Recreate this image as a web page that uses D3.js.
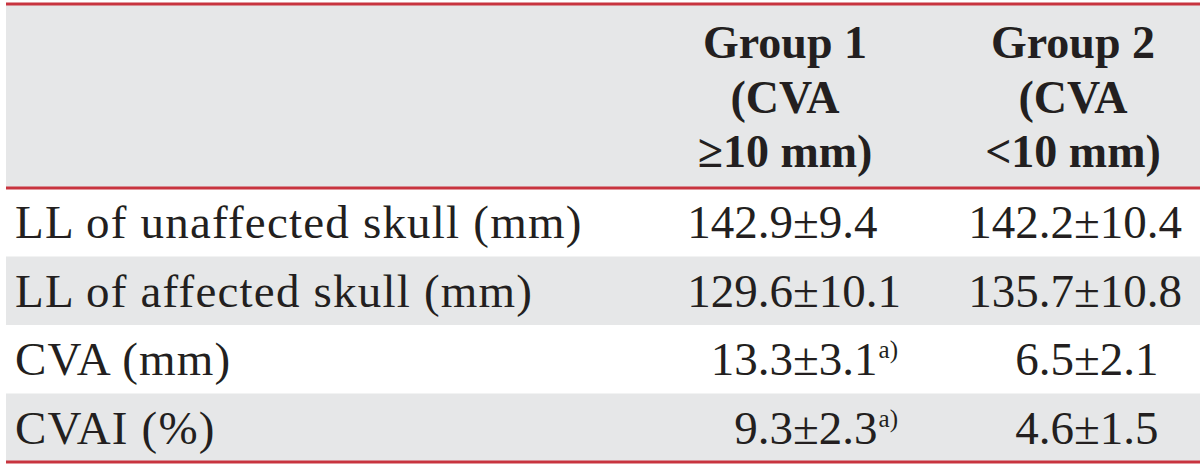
<!DOCTYPE html>
<html>
<head>
<meta charset="utf-8">
<script src="https://cdn.jsdelivr.net/npm/d3@7"></script>
<style>
  body { margin: 0; background: #fff; }
  text { font-family: "Liberation Serif", "DejaVu Serif", serif; fill: #231f20; }
</style>
</head>
<body>
<script>
// table content
var groups = ["Group 1", "Group 2"];
var criteria = ["\u226510 mm", "<10 mm"];
var rowLabels = ["LL of unaffected skull (mm)", "LL of affected skull (mm)", "CVA (mm)", "CVAI (%)"];
var mean1 = [142.9, 129.6, 13.3, 9.3];
var sd1 = [9.4, 10.1, 3.1, 2.3];
var note1 = ["", "", "a)", "a)"];
var mean2 = [142.2, 135.7, 6.5, 4.6];
var sd2 = [10.4, 10.8, 2.1, 1.5];
var note2 = ["", "", "", ""];

var width = 1200;
var height = 467;

var svg = d3.select("body")
    .append("svg")
    .attr("width", width)
    .attr("height", height);

var left = 6, right = 1200;
var headTop = 4, headBottom = 188, tableBottom = 462;

// rows
var yRow = d3.scaleBand()
    .domain(rowLabels)
    .range([headBottom, tableBottom]);

// column positions (left edge of the ± sign) and header centres
var xPm = d3.scaleOrdinal().domain(groups).range([793, 1074]);
var xHead = d3.scaleOrdinal().domain(groups).range([785, 1073]);

// header background
svg.append("rect")
    .attr("x", left).attr("y", headTop)
    .attr("width", right - left).attr("height", headBottom - headTop)
    .style("fill", "#e6e7e8");

// alternating row shading
svg.selectAll("rect.row")
    .data(rowLabels)
    .enter().append("rect")
    .attr("class", "row")
    .attr("x", left)
    .attr("y", function(d) { return yRow(d); })
    .attr("width", right - left)
    .attr("height", yRow.bandwidth())
    .style("fill", function(d, i) { return i % 2 ? "#e6e7e8" : "#ffffff"; });

// red rules
[headTop, headBottom, tableBottom].forEach(function(y) {
  svg.append("line")
      .attr("x1", left).attr("x2", right)
      .attr("y1", y).attr("y2", y)
      .style("stroke", "#c8343f")
      .style("stroke-width", 3);
});

// header text
var headLines = groups.map(function(g, i) { return [g, "(CVA", criteria[i] + ")"]; });
groups.forEach(function(g, i) {
  svg.append("text")
      .attr("text-anchor", "middle")
      .attr("x", xHead(g))
      .attr("font-size", "46px")
      .attr("font-weight", "700")
      .selectAll("tspan")
      .data(headLines[i])
      .enter().append("tspan")
      .attr("x", xHead(g))
      .attr("y", function(d, j) { return 58 + j * 54.5; })
      .text(function(d) { return d; });
});

// row labels
svg.selectAll("text.label")
    .data(rowLabels)
    .enter().append("text")
    .attr("class", "label")
    .attr("x", 15)
    .attr("y", function(d) { return yRow(d) + yRow.bandwidth() / 2 + 16; })
    .attr("font-size", "47px")
    .attr("letter-spacing", "1.2px")
    .text(function(d) { return d; });

// values, aligned on the ± sign
function drawColumn(g, means, sds, notes) {
  var col = svg.append("g");
  rowLabels.forEach(function(r, i) {
    var y = yRow(r) + yRow.bandwidth() / 2 + 16;
    col.append("text")
        .attr("text-anchor", "end")
        .attr("x", xPm(g))
        .attr("y", y)
        .attr("font-size", "47px")
        .text(means[i].toFixed(1));
    var t = col.append("text")
        .attr("x", xPm(g))
        .attr("y", y)
        .attr("font-size", "47px")
        .text("\u00b1" + sds[i].toFixed(1));
    if (notes[i]) {
      t.append("tspan")
          .attr("dx", 1)
          .attr("dy", -17)
          .attr("font-size", "25px")
          .text(notes[i]);
    }
  });
}

drawColumn(groups[0], mean1, sd1, note1);
drawColumn(groups[1], mean2, sd2, note2);
</script>
</body>
</html>
